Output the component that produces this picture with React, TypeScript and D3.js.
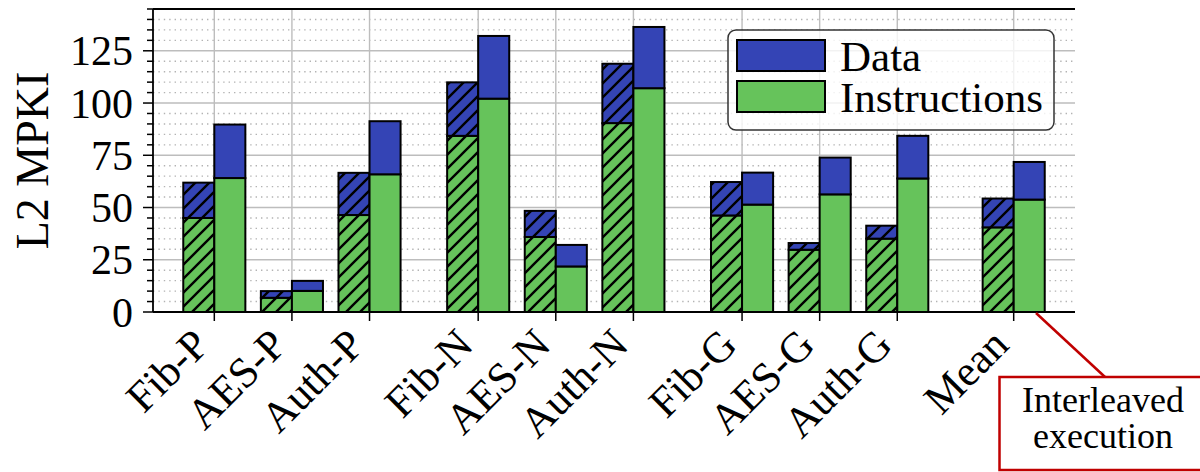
import React, { useEffect, useRef } from 'react';
import * as d3 from 'd3';

// benchmark names, grouped (P / N / G / mean)
const categories = ['Fib-P', 'AES-P', 'Auth-P', 'Fib-N', 'AES-N', 'Auth-N', 'Fib-G', 'AES-G', 'Auth-G', 'Mean'];
const groupOf = [0, 0, 0, 1, 1, 1, 2, 2, 2, 3];

// interleaved execution (hatched bars)
const interInstr = [45.0, 6.8, 46.4, 84.3, 35.9, 90.4, 46.2, 29.8, 35.1, 40.5];
const interData = [16.9, 3.2, 20.2, 25.6, 12.5, 28.4, 16.0, 3.2, 6.2, 13.8];

// regular execution (plain bars)
const plainInstr = [64.1, 10.1, 65.9, 102.1, 21.8, 107.1, 51.4, 56.3, 63.9, 53.8];
const plainData = [25.6, 4.8, 25.4, 30.0, 10.3, 29.3, 15.3, 17.6, 20.4, 18.0];

const yTicks = [0, 25, 50, 75, 100, 125];
const legendLabels = ['Data', 'Instructions'];
const noteLines = ['Interleaved', 'execution'];

const W = 1200;
const H = 472;
const BLUE = '#3444b5';
const GREEN = '#66c35b';
const RED = '#c00000';
const FONT = "'Liberation Serif', 'Times New Roman', Times, serif";

export default function App() {
    const ref = useRef<SVGSVGElement>(null);

    useEffect(() => {
        const svg = d3.select(ref.current);
        svg.selectAll('*').remove();

        const left = 153, right = 1075, top = 9, bottom = 312;
        const groupShift = [0, 0.4, 0.8, 1.3];
        const slot = categories.map((_, i) => i + groupShift[groupOf[i]]);

        const x = d3.scaleLinear().domain([-0.79, slot[slot.length - 1] + 0.79]).range([left, right]);
        const y = d3.scaleLinear().domain([0, 145]).range([bottom, top]);
        const bw = x(0.4) - x(0);

        // hatch pattern
        const defs = svg.append('defs');
        defs.append('pattern')
            .attr('id', 'hatch')
            .attr('patternUnits', 'userSpaceOnUse')
            .attr('width', 14)
            .attr('height', 14)
            .append('path')
            .attr('d', 'M0,14 L14,0 M-3.5,3.5 L3.5,-3.5 M10.5,17.5 L17.5,10.5')
            .attr('stroke', '#000')
            .attr('stroke-width', 2.4);

        // grid
        const grid = svg.append('g');
        d3.range(5, 145, 5).filter(v => v % 25 !== 0).forEach(v => {
            grid.append('line')
                .attr('x1', left).attr('x2', right)
                .attr('y1', y(v)).attr('y2', y(v))
                .attr('stroke', '#b3b3b3')
                .attr('stroke-width', 1.4)
                .attr('stroke-dasharray', '1.4,4');
        });
        yTicks.forEach(v => {
            grid.append('line')
                .attr('x1', left).attr('x2', right)
                .attr('y1', y(v)).attr('y2', y(v))
                .attr('stroke', '#bdbdbd')
                .attr('stroke-width', 1.4);
        });
        slot.forEach(s => {
            grid.append('line')
                .attr('x1', x(s)).attr('x2', x(s))
                .attr('y1', top).attr('y2', bottom)
                .attr('stroke', '#bdbdbd')
                .attr('stroke-width', 1.4);
        });

        // bars
        const bars = svg.append('g');
        const segment = (x0: number, lo: number, hi: number, color: string, hatched: boolean) => {
            bars.append('rect')
                .attr('x', x0).attr('width', bw)
                .attr('y', y(hi)).attr('height', y(lo) - y(hi))
                .attr('fill', color);
            if (hatched) {
                bars.append('rect')
                    .attr('x', x0).attr('width', bw)
                    .attr('y', y(hi)).attr('height', y(lo) - y(hi))
                    .attr('fill', 'url(#hatch)');
            }
            bars.append('rect')
                .attr('x', x0).attr('width', bw)
                .attr('y', y(hi)).attr('height', y(lo) - y(hi))
                .attr('fill', 'none')
                .attr('stroke', '#000')
                .attr('stroke-width', 2);
        };
        categories.forEach((_, i) => {
            const cx = x(slot[i]);
            segment(cx - bw, 0, interInstr[i], GREEN, true);
            segment(cx - bw, interInstr[i], interInstr[i] + interData[i], BLUE, true);
            segment(cx, 0, plainInstr[i], GREEN, false);
            segment(cx, plainInstr[i], plainInstr[i] + plainData[i], BLUE, false);
        });

        // spines
        const axes = svg.append('g').attr('stroke', '#000').attr('stroke-width', 1.8);
        axes.append('line').attr('x1', left).attr('x2', left).attr('y1', top).attr('y2', bottom);
        axes.append('line').attr('x1', left).attr('x2', right).attr('y1', top).attr('y2', top);
        axes.append('line').attr('x1', left).attr('x2', right).attr('y1', bottom).attr('y2', bottom);

        // y ticks
        d3.range(0, 146, 5).forEach(v => {
            const major = v % 25 === 0;
            axes.append('line')
                .attr('x1', left - (major ? 10 : 6)).attr('x2', left)
                .attr('y1', y(v)).attr('y2', y(v))
                .attr('stroke-width', 1.5);
        });
        const texts = svg.append('g').style('font-family', FONT).attr('fill', '#000');
        texts.append('g').selectAll('text')
            .data(yTicks)
            .enter().append('text')
            .attr('x', 133)
            .attr('y', d => y(d))
            .attr('dy', '0.35em')
            .attr('text-anchor', 'end')
            .attr('font-size', 42)
            .text(d => d);

        // x ticks
        slot.forEach(s => {
            axes.append('line')
                .attr('x1', x(s)).attr('x2', x(s))
                .attr('y1', bottom).attr('y2', bottom + 9)
                .attr('stroke-width', 1.5);
        });
        texts.append('g').selectAll('text')
            .data(categories)
            .enter().append('text')
            .attr('transform', (d, i) => `translate(${x(slot[i]) - 3}, 347) rotate(-45)`)
            .attr('text-anchor', 'end')
            .attr('font-size', 43)
            .text(d => d);

        // y label
        texts.append('text')
            .attr('transform', `translate(48, ${(top + bottom) / 2}) rotate(-90)`)
            .attr('text-anchor', 'middle')
            .attr('font-size', 46)
            .text('L2 MPKI');

        // legend
        const lg = svg.append('g');
        lg.append('rect')
            .attr('x', 728).attr('y', 30)
            .attr('width', 326).attr('height', 100)
            .attr('rx', 8)
            .attr('fill', '#fff').attr('fill-opacity', 0.8)
            .attr('stroke', '#333').attr('stroke-width', 1.5);
        [BLUE, GREEN].forEach((c, k) => {
            lg.append('rect')
                .attr('x', 737).attr('y', 40 + k * 41)
                .attr('width', 88).attr('height', 31)
                .attr('fill', c)
                .attr('stroke', '#000').attr('stroke-width', 2);
            lg.append('text')
                .attr('x', 840).attr('y', 71 + k * 41)
                .style('font-family', FONT)
                .attr('font-size', 43)
                .text(legendLabels[k]);
        });

        // annotation
        svg.append('line')
            .attr('x1', 1036).attr('y1', 313)
            .attr('x2', 1105).attr('y2', 377)
            .attr('stroke', RED).attr('stroke-width', 2.5);
        svg.append('rect')
            .attr('x', 999.5).attr('y', 377)
            .attr('width', 215).attr('height', 93)
            .attr('fill', '#fff')
            .attr('stroke', RED).attr('stroke-width', 2.5);
        noteLines.forEach((t, k) => {
            svg.append('text')
                .attr('x', 1103).attr('y', 412 + k * 36)
                .attr('text-anchor', 'middle')
                .style('font-family', FONT)
                .attr('font-size', 36)
                .text(t);
        });
    }, []);

    return (
        <svg
            ref={ref}
            width={W}
            height={H}
            style={{ position: 'absolute', left: 0, top: 0, background: '#fff' }}
        />
    );
}
